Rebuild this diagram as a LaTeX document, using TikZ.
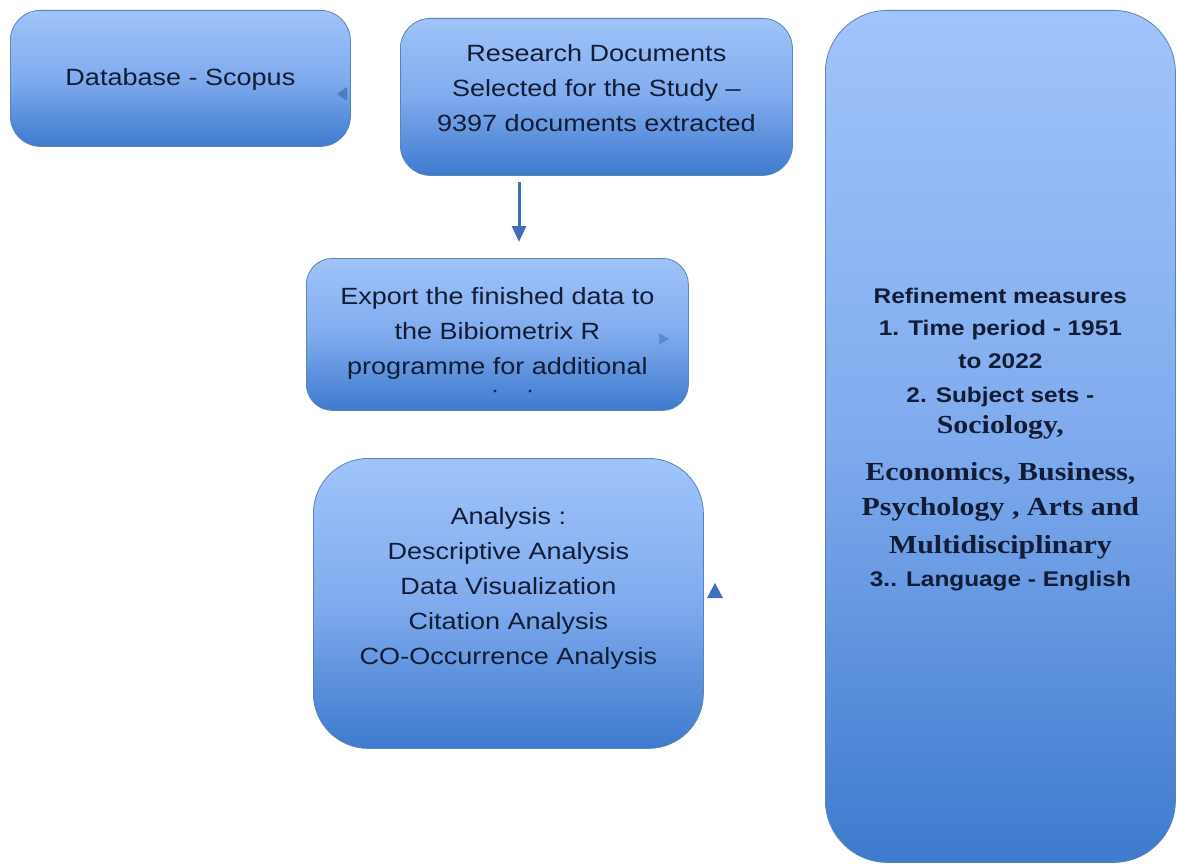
\documentclass[tikz,border=0pt]{standalone}
\usepackage{fontspec}
\setmainfont{Liberation Sans}[FakeStretch=1.15]
\newfontfamily\serifbf{Liberation Serif}[FakeStretch=1.15]
\usetikzlibrary{arrows.meta,calc}
\definecolor{boxtop}{HTML}{A0C4FA}
\definecolor{boxmid}{HTML}{80ABEE}
\definecolor{boxbot}{HTML}{3E7ACE}
\definecolor{boxline}{HTML}{5E82B4}
\definecolor{ink}{HTML}{121C36}
\definecolor{arrowblue}{HTML}{3F6FBA}
\tikzset{
  flowbox/.style={draw=boxline, line width=0.8pt, top color=boxtop, bottom color=boxbot,
    middle color=boxmid, inner sep=0pt, anchor=north west},
  boxtext/.style={text=ink, align=center, font=\fontsize{23.5}{35}\selectfont, inner sep=0pt},
  sidetext/.style={text=ink, align=center, font=\fontsize{21.2}{33}\selectfont\bfseries, inner sep=0pt},
  flowarrow/.style={draw=arrowblue, line width=3pt, -{Triangle[width=14pt,length=16pt]}},
  stubtip/.style={fill=#1, draw=none},
}
\newcommand\sbf[1]{{\serifbf\fontsize{26}{33}\selectfont #1}}
\begin{document}
\begin{tikzpicture}[x=1pt,y=-1pt]
\useasboundingbox (0,0) rectangle (1177,864);
\fill[white] (0,0) rectangle (1177,864);

% boxes
\node[flowbox, rounded corners=30pt, minimum width=340pt, minimum height=136pt] (db) at (10,10) {};
\node[flowbox, rounded corners=30pt, minimum width=392pt, minimum height=157pt] (res) at (400,18) {};
\node[flowbox, rounded corners=26pt, minimum width=382pt, minimum height=152pt] (exp) at (306,258) {};
\node[flowbox, rounded corners=55pt, minimum width=390pt, minimum height=290pt] (ana) at (313,458) {};
\node[flowbox, rounded corners=62pt, minimum width=350pt, minimum height=852pt] (ref) at (825,10) {};

% box texts
\node[boxtext] (dbt) at ($(db.center)+(0,1)$) {Database - Scopus};
\node[boxtext] (rest) at ($(res.center)+(0,-9)$) {Research Documents\\Selected for the Study --\\9397 documents extracted};
\node[boxtext] (expt) at ($(exp.center)+(0,-1)$) {Export the finished data to\\the Bibiometrix R\\programme for additional};
\node[boxtext] (anat) at ($(ana.center)+(0,-15)$) {Analysis :\\Descriptive Analysis\\Data Visualization\\Citation Analysis\\CO-Occurrence Analysis};
\node[sidetext] (reft) at ($(ref.center)+(0,3)$) {Refinement measures\\[-1pt]
 1. Time period - 1951\\
 to 2022\\[1pt]
 2. Subject sets -\\[-2pt]
 \sbf{Sociology,}\\[14pt]
 \sbf{Economics, Business,}\\[2pt]
 \sbf{Psychology , Arts and}\\[5pt]
 \sbf{Multidisciplinary}\\
 3.. Language - English};

% clipped last line of the export box
\fill[ink] (495,391) circle (1.6pt);
\fill[ink] (530,391) circle (1.6pt);

% connector between research and export boxes
\coordinate (arrs) at (519,182);
\coordinate (arre) at (519,242);
\draw[flowarrow] (arrs) -- (arre);

% connector tips left without their lines
\fill[stubtip={arrowblue!80!boxmid}] (337,94) -- (347,87) -- (347,101) -- cycle;
\fill[stubtip={arrowblue!55!boxmid}] (669,339) -- (659,333) -- (659,345) -- cycle;
\fill[stubtip={arrowblue}] (715,583) -- (723,598) -- (707,598) -- cycle;
\end{tikzpicture}
\end{document}
